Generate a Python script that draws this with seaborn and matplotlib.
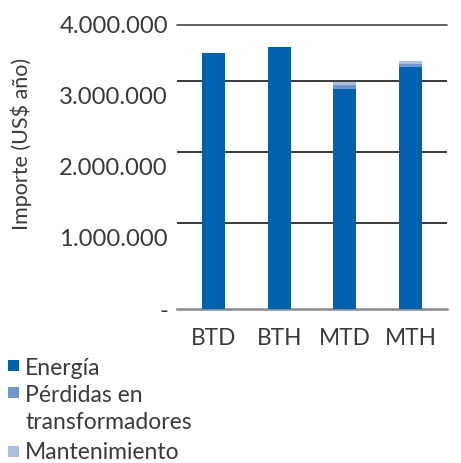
import matplotlib
matplotlib.use("Agg")
import matplotlib.pyplot as plt
from matplotlib.patches import Rectangle
import seaborn as sns
import pandas as pd

# Annual cost per transformer/line configuration (US$ per year)
categories = ["BTD", "BTH", "MTD", "MTH"]
energia = [3600000, 3690000, 3100000, 3400000]
perdidas = [0, 0, 52000, 52000]
mantenimiento = [0, 0, 42000, 42000]

series_names = ["Energía", "Pérdidas en\ntransformadores", "Mantenimiento"]
y_ticks = [0, 1000000, 2000000, 3000000, 4000000]
y_ticklabels = ["-", "1.000.000", "2.000.000", "3.000.000", "4.000.000"]
y_label = "Importe (US$ año)"

colors = ["#0062ae", "#6f96cd", "#aabfe3"]
text_color = "#3a3a3a"

sns.set_style("white")
plt.rcParams["font.family"] = ["Lato", "DejaVu Sans"]

W, H = 461, 463
fig = plt.figure(figsize=(W / 100, H / 100), dpi=100)

# plot area in pixels (left, top, right, bottom)
L, T, R, B = 177, 24.7, 447, 309
ax = fig.add_axes([L / W, 1 - B / H, (R - L) / W, (B - T) / H])

df = pd.DataFrame({
    "cat": categories,
    "e": energia,
    "p": perdidas,
    "m": mantenimiento,
})
df["ep"] = df["e"] + df["p"]
df["total"] = df["ep"] + df["m"]

# stacked bars, drawn from the tallest layer down
for col, c in zip(["total", "ep", "e"], colors[::-1]):
    sns.barplot(data=df, x="cat", y=col, color=c, width=0.35,
                saturation=1, ax=ax, zorder=3, linewidth=0)

ax.set_xlim(-0.555, 3.555)
ax.set_ylim(0, 4000000)

# horizontal guide lines
for lvl in [1206000, 2205000, 3212000]:
    ax.axhline(lvl, color="#2b2b2b", lw=1.3, zorder=1)
ax.axhline(4000000, color="#555555", lw=1.3, zorder=1, clip_on=False)

for s in ["top", "right", "left"]:
    ax.spines[s].set_visible(False)
ax.spines["bottom"].set_color("#8a8a8a")
ax.spines["bottom"].set_linewidth(1.8)

ax.set_yticks(y_ticks)
ax.set_yticklabels(y_ticklabels)
ax.tick_params(axis="y", length=0, pad=6.5, labelsize=17.2, labelcolor=text_color)
ax.tick_params(axis="x", length=0, pad=13.5, labelsize=16.3, labelcolor=text_color)
ax.set_xlabel("")
ax.set_ylabel("")

fig.text(21.5 / W, 1 - 143.5 / H, y_label, rotation=90, ha="center", va="center",
         fontsize=15.5, color=text_color)

# legend
sq = 10.5
legend_rows = [
    (360, [(375, series_names[0])]),
    (387, [(402.5, "Pérdidas en"), (429, "transformadores")]),
    (446, [(459, series_names[2])]),
]
for (sq_top, lines), c in zip(legend_rows, colors):
    fig.patches.append(Rectangle((8 / W, 1 - (sq_top + sq) / H), sq / W, sq / H,
                                 transform=fig.transFigure, facecolor=c,
                                 edgecolor="none", figure=fig))
    for base, txt in lines:
        fig.text(25 / W, 1 - base / H, txt, ha="left", va="baseline",
                 fontsize=16.5, color=text_color)

fig.savefig("out.png", dpi=100)
